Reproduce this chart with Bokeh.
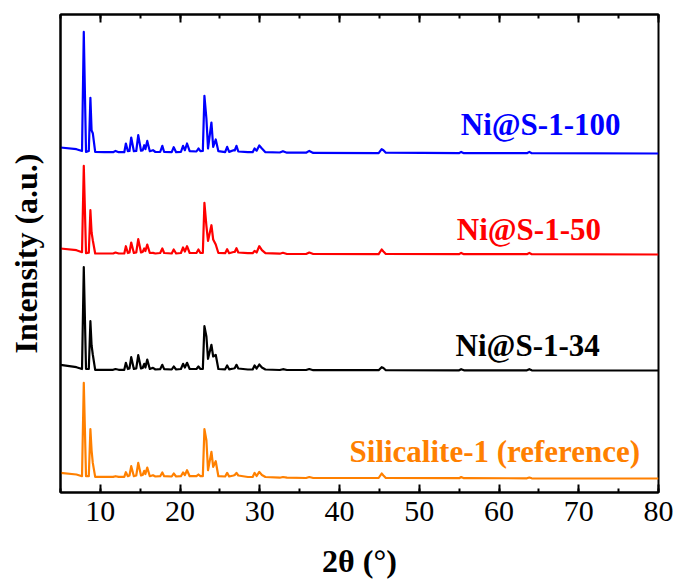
from bokeh.plotting import figure
from bokeh.models import Range1d, LinearAxis, SingleIntervalTicker, FixedTicker, ColumnDataSource, CustomJSTickFormatter
from bokeh.core.properties import value
from bokeh.embed import file_html
from bokeh.resources import INLINE

# ---- data ----
two_theta = [5.0, 7.0, 7.7, 7.92, 8.2, 8.55, 8.75, 8.9, 9.05, 9.35,
             10.5, 11.6, 11.9, 12.3, 13.0, 13.2, 13.45, 13.65, 13.87, 14.2,
             14.5, 14.75, 15.1, 15.3, 15.5, 15.65, 15.88, 16.2, 16.6, 16.9,
             17.5, 17.77, 18.0, 18.95, 19.2, 19.5, 20.1, 20.37, 20.6, 20.87,
             21.2, 22.05, 22.3, 22.55, 22.85, 23.05, 23.3, 23.5, 23.93, 24.15,
             24.47, 24.8, 25.65, 25.9, 26.15, 26.7, 26.85, 27.07, 27.3, 28.5,
             29.1, 29.34, 29.6, 29.93, 30.26, 30.7, 32.5, 32.9, 33.4, 35.8,
             36.2, 36.7, 44.9, 45.28, 45.5, 45.8, 55.0, 55.25, 55.6, 63.5,
             63.8, 64.1, 80.0]

int_ni100 = [6, 4.3, 2.5, 121.6, 1.6, 2.5, 55.6, 23, 20.3, 1.6,
             1.3, 1.3, 2.6, 1.3, 1.3, 10, 2.3, 2.5, 16, 2.3,
             2.5, 18.3, 2.8, 3, 8.3, 4.3, 12.6, 2.3, 3.3, 1.5,
             1.5, 7.6, 1.5, 1.3, 6.3, 1.3, 1.5, 7.6, 3.3, 10,
             2.3, 2, 5, 2.3, 2.5, 57.6, 35, 5, 31, 6.6,
             14, 2.3, 1.3, 6.6, 1.6, 3.3, 3.0, 7.6, 2, 1.3,
             1.3, 5, 2.8, 8, 5, 1.3, 1, 2.3, 0.8, 0.8,
             2.6, 0.6, 0.3, 4.3, 3.3, 0.8, 0.3, 1.6, 0.3, 0.3,
             1.6, 0.3, 0]

int_ni50 = [6, 4.3, 2.3, 88.6, 1.3, 1.8, 44.3, 22, 14.3, 1,
            1, 1, 2, 1, 1, 8.3, 1.5, 2, 12, 1.5,
            2, 15.3, 2, 2.5, 6, 3.5, 10, 1.5, 1.6, 1,
            1.5, 6, 1.5, 1, 5, 1, 1.5, 7, 3, 8.3,
            1.5, 1.5, 5, 1.5, 1.5, 51.6, 28.6, 13.6, 29.3, 15,
            10, 1.5, 1.3, 5.3, 1.3, 2.5, 2.5, 6.3, 2, 1.3,
            1.3, 3.6, 2, 8.3, 4.3, 1.3, 0.8, 1.7, 0.5, 0.5,
            2, 0.5, 0.3, 5, 3, 0.5, 0.3, 1.6, 0.3, 0.3,
            1.6, 0.3, 0]

int_ni34 = [5.7, 3.3, 1.5, 103.3, 1.7, 1.5, 49.3, 25, 16, 0.7,
            0.7, 0.7, 1.5, 0.7, 0.7, 7.7, 1.5, 2, 13.3, 1.5,
            2, 15.3, 2, 2.5, 6.7, 3, 11, 1.5, 2.7, 1,
            1.3, 5.7, 1.3, 1, 4, 1, 1.5, 6.7, 3, 7.7,
            1.5, 1.5, 4, 1.5, 1.5, 44.3, 34, 11.7, 25.7, 14,
            15.7, 1.5, 1.2, 5, 1.2, 2, 2.3, 5.7, 2, 1,
            1, 5, 2, 6, 3, 1, 0.5, 1.3, 0.5, 0.5,
            1.5, 0.3, 0.3, 3.3, 2.5, 0.3, 0.2, 1.3, 0.2, 0.2,
            1.3, 0.2, 0]

int_ref = [5.6, 4, 2.3, 95.6, 2.3, 2.3, 49.3, 28, 15.6, 1.6,
           1.6, 1.6, 2.3, 1.6, 1.6, 6.3, 2.3, 3, 12.3, 2.3,
           3, 15.6, 3, 3.5, 7.6, 4.5, 11, 2.3, 3.3, 2,
           2.3, 6, 2.3, 2, 5, 2, 2.3, 6, 3.5, 8.3,
           2.3, 2.3, 4, 2.3, 2.3, 49.3, 38.3, 8.3, 26.6, 11.6,
           17.3, 2.3, 2, 5.6, 2, 3, 3.5, 5.6, 3, 1.5,
           1.5, 5.6, 2.5, 6.6, 3.5, 1.5, 0.8, 1.5, 0.8, 0.5,
           1.5, 0.5, 0.5, 5, 3, 0.5, 0.3, 1.5, 0.3, 0.2,
           1, 0.2, 0]

names = ["Ni@S-1-100", "Ni@S-1-50", "Ni@S-1-34", "Silicalite-1 (reference)"]
series = [int_ni100, int_ni50, int_ni34, int_ref]
colors = ["#0000FF", "#FF0000", "#000000", "#FF8000"]
offsets = [339, 238, 122, 14]
label_x = [55.2, 54.7, 54.55, 41.25]
label_y = [368, 263, 147, 41]

x_ticks_major = 10
FONT = "Liberation Serif"
AXFONT = '"Liberation Serif", "Times New Roman", serif'

p = figure(width=678, height=583, output_backend="svg", toolbar_location=None,
           x_range=Range1d(5, 80), y_range=Range1d(0, 478),
           x_axis_location=None, y_axis_location=None,
           min_border_left=60, min_border_right=20, min_border_top=14, min_border_bottom=91)
p.background_fill_color = "white"
p.border_fill_color = "white"
p.xgrid.visible = False
p.ygrid.visible = False
p.outline_line_color = "black"
p.outline_line_width = 2

for ys, c, off in zip(series, colors, offsets):
    assert len(ys) == len(two_theta)
    p.line(two_theta, [v + off for v in ys], line_color=c, line_width=2.2,
           line_join="round")

src = ColumnDataSource(dict(x=label_x, y=label_y, t=names, c=colors))
p.text(x="x", y="y", text="t", text_color="c", source=src,
       text_font=value(FONT), text_font_style="bold", text_font_size="31px",
       text_align="left", text_baseline="alphabetic")

def make_x_axis(labels):
    ax = LinearAxis(ticker=SingleIntervalTicker(interval=x_ticks_major, num_minor_ticks=2))
    ax.axis_line_color = "black"
    ax.axis_line_width = 2
    ax.major_tick_in = 8
    ax.major_tick_out = 0
    ax.minor_tick_in = 4
    ax.minor_tick_out = 0
    ax.major_tick_line_width = 2
    ax.minor_tick_line_width = 2
    ax.major_tick_line_color = "black"
    ax.minor_tick_line_color = "black"
    if labels:
        ax.major_label_text_font = AXFONT
        ax.major_label_text_font_size = "30px"
        ax.major_label_text_color = "black"
        ax.major_label_standoff = 9
        ax.axis_label = "2θ (°)"
        ax.axis_label_text_font = AXFONT
        ax.axis_label_text_font_style = "bold"
        ax.axis_label_text_font_size = "32px"
        ax.axis_label_text_color = "black"
        ax.axis_label_standoff = 19
    else:
        ax.formatter = CustomJSTickFormatter(code="return ''")
        ax.major_label_text_font_size = "1px"
        ax.major_label_standoff = 0
    return ax

p.add_layout(make_x_axis(True), "below")
p.add_layout(make_x_axis(False), "above")

yax = LinearAxis(ticker=FixedTicker(ticks=[]))
yax.axis_line_color = "black"
yax.axis_line_width = 2
yax.major_tick_line_color = None
yax.minor_tick_line_color = None
yax.major_label_standoff = 0
yax.axis_label = "Intensity (a.u.)"
yax.axis_label_text_font = AXFONT
yax.axis_label_text_font_style = "bold"
yax.axis_label_text_font_size = "32px"
yax.axis_label_text_color = "black"
yax.axis_label_standoff = 17
p.add_layout(yax, "left")

open("out.html", "w").write(file_html(p, INLINE))
